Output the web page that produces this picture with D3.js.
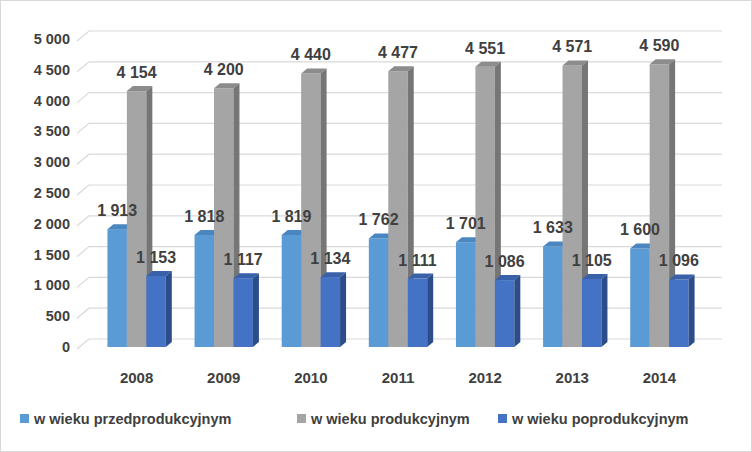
<!DOCTYPE html>
<html><head><meta charset="utf-8">
<script src="https://cdn.jsdelivr.net/npm/d3@7"></script>
<style>body{margin:0;background:#fff}svg{font-family:"Liberation Sans",Arial,sans-serif}</style>
</head><body><svg id="c" width="752" height="452"></svg>
<script>
var years = ["2008", "2009", "2010", "2011", "2012", "2013", "2014"];
var przed = [1913, 1818, 1819, 1762, 1701, 1633, 1600];
var prod = [4154, 4200, 4440, 4477, 4551, 4571, 4590];
var po = [1153, 1117, 1134, 1111, 1086, 1105, 1096];
var seriesNames = ["w wieku przedprodukcyjnym", "w wieku produkcyjnym", "w wieku poprodukcyjnym"];
var yTicks = [0, 500, 1000, 1500, 2000, 2500, 3000, 3500, 4000, 4500, 5000];

var svg = d3.select("#c");
svg.append("rect").attr("x", 0.5).attr("y", 0.5).attr("width", 751).attr("height", 451)
    .attr("fill", "#fff").attr("stroke", "#d9d9d9");

var y = d3.scaleLinear().domain([0, 5000]).range([347, 39]);
var x = d3.scaleBand().domain(years).range([90, 692 + 14]).paddingInner(0.33).paddingOuter(0.2);
var dx = 6, dy = -5;
var fmt = function (v) { return d3.format(",")(v).replace(",", " "); };

yTicks.forEach(function (t) {
    var yy = y(t);
    svg.append("path").attr("d", "M77," + (yy + 2) + "L89," + (yy - 8) + "L722," + (yy - 8))
        .attr("fill", "none").attr("stroke", "#d9d9d9").attr("stroke-width", 1.2);
    svg.append("text").attr("x", 70).attr("y", yy + 5).attr("text-anchor", "end")
        .attr("font-size", 14.5).attr("font-weight", "bold").attr("fill", "#404040").text(fmt(t));
});

var series = [
    {vals: przed, front: "#5b9bd5", top: "#4a86c0", side: "#3f76ab"},
    {vals: prod, front: "#a5a5a5", top: "#8c8c8c", side: "#767676"},
    {vals: po, front: "#4472c4", top: "#3961aa", side: "#2c4d8a"}
];
var bw = x.bandwidth() / 3;

series.forEach(function (s, si) {
    years.forEach(function (yr, i) {
        var x0 = x(yr) + si * bw, x1 = x0 + bw, yt = y(s.vals[i]), yb = y(0);
        var g = svg.append("g");
        g.append("rect").attr("x", x0).attr("y", yt).attr("width", bw).attr("height", yb - yt).attr("fill", s.front);
        g.append("path").attr("d", "M" + x0 + "," + yt + "L" + (x0 + dx) + "," + (yt + dy) + "L" + (x1 + dx) + "," + (yt + dy) + "L" + x1 + "," + yt + "Z").attr("fill", s.top);
        g.append("path").attr("d", "M" + x1 + "," + yt + "L" + (x1 + dx) + "," + (yt + dy) + "L" + (x1 + dx) + "," + (yb + dy) + "L" + x1 + "," + yb + "Z").attr("fill", s.side);
    });
});

series.forEach(function (s, si) {
    years.forEach(function (yr, i) {
        svg.append("text").attr("x", x(yr) + si * bw + bw / 2).attr("y", y(s.vals[i]) - 13)
            .attr("text-anchor", "middle").attr("font-size", 16).attr("font-weight", "bold")
            .attr("fill", "#404040").text(fmt(s.vals[i]));
    });
});

years.forEach(function (yr) {
    svg.append("text").attr("x", x(yr) + x.bandwidth() / 2).attr("y", 383).attr("text-anchor", "middle")
        .attr("font-size", 15).attr("font-weight", "bold").attr("fill", "#404040").text(yr);
});

var legX = [20, 297, 498];
seriesNames.forEach(function (n, i) {
    svg.append("rect").attr("x", legX[i]).attr("y", 414).attr("width", 9).attr("height", 9).attr("fill", series[i].front);
    svg.append("text").attr("x", legX[i] + 14).attr("y", 424).attr("font-size", 14.5).attr("font-weight", "bold")
        .attr("fill", "#404040").text(n);
});
</script></body></html>
